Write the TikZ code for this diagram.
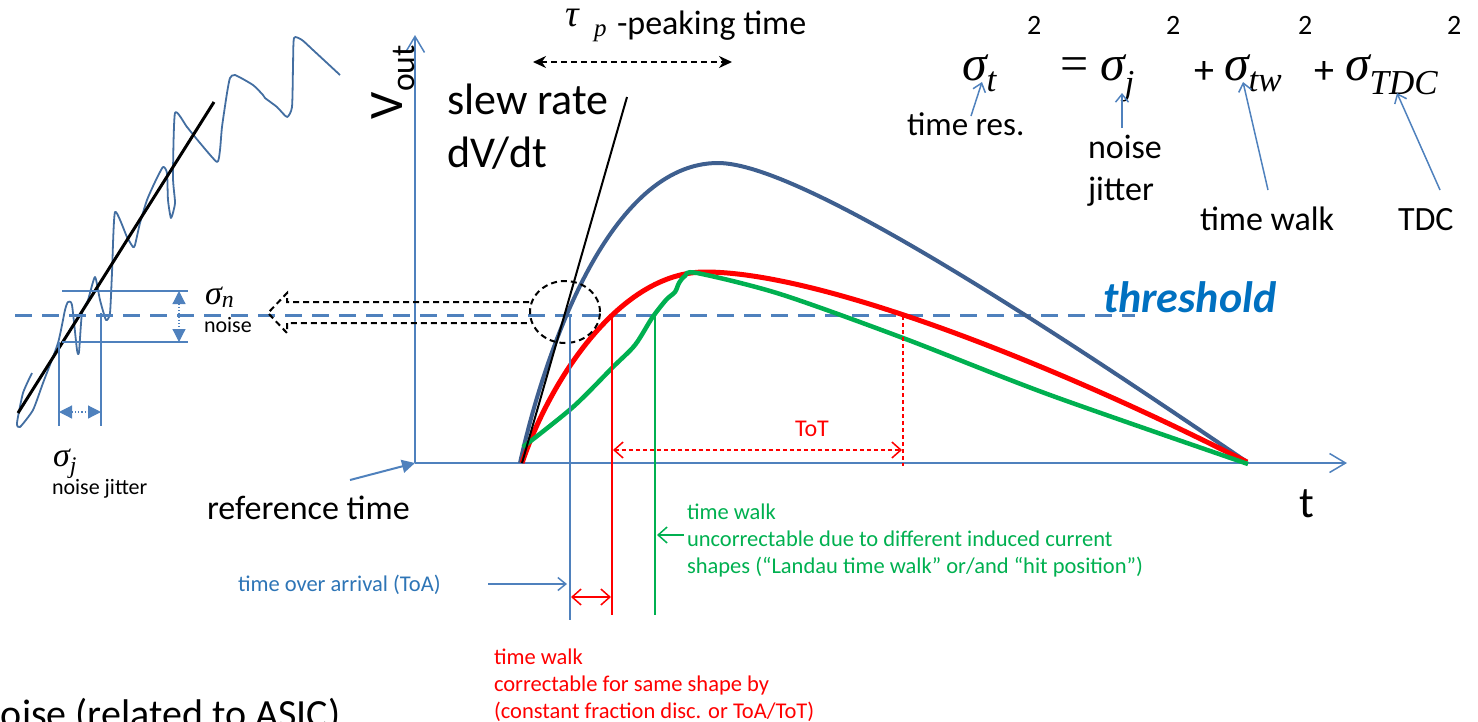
\documentclass[tikz,border=0pt]{standalone}
\usepackage{fontspec}
\setmainfont{Carlito}
\newfontfamily\eqf{Liberation Serif}
\usetikzlibrary{arrows.meta,shapes.geometric}
\definecolor{axisblue}{HTML}{4F81BD}
\definecolor{pulseblue}{HTML}{3E5F8F}
\definecolor{thrblue}{HTML}{0070C0}
\definecolor{toablue}{HTML}{2E75B6}
\definecolor{tgreen}{HTML}{00B050}
\definecolor{tred}{HTML}{FF0000}
\newcommand{\fsz}[1]{\fontsize{#1}{#1}\selectfont}
\tikzset{
  txt/.style={inner sep=0pt, outer sep=0pt, anchor=base west},
  axisline/.style={draw=axisblue, line width=1.5pt},
  thinarrow/.style={draw=axisblue, line width=1.5pt, -{Straight Barb[length=8pt,width=13pt,line width=1.5pt]}},
  thr/.style={draw=axisblue, line width=3pt, dash pattern=on 17pt off 10pt},
  blkdash/.style={draw=black, line width=2pt, dash pattern=on 6pt off 4pt},
  tri/.style={-{Triangle[length=13pt,width=13pt]}},
  tris/.style={{Triangle[length=13pt,width=13pt]}-{Triangle[length=13pt,width=13pt]}},
}
\begin{document}
\begin{tikzpicture}[x=1pt,y=-1pt]
\path[use as bounding box] (0,0) rectangle (1478,721);
\clip (0,0) rectangle (1478,721);

% ---------------- left noise sketch ----------------
\draw[axisblue!85!black, line width=1.8pt, line join=round] plot[smooth, tension=0.35] coordinates {
(32,373) (23,393) (17,423) (20,427) (33,410) (43,383) (58,343) (65,310) (68,302) (72,305)
(77,350) (79,352) (82,313) (88,300) (95,277) (100,300) (106,320) (110,313) (112,273) (115,212)
(127,237) (133,247) (135,245) (140,223) (147,200) (155,182) (163,167) (167,173) (168,200) (171,218)
(175,203) (173,177) (175,113) (187,127) (200,143) (217,162) (220,150) (222,127) (227,93) (230,78)
(235,75) (253,85) (263,95) (265,98) (277,107) (287,117) (292,107) (293,67) (294,38) (302,40)
(313,50) (340,75)};
\coordinate (nl1) at (18,413);
\coordinate (nl2) at (214,102);
\draw[black, line width=3pt] (nl1) -- (nl2);

% noise band
\coordinate (nbTL) at (62,291); \coordinate (nbTR) at (188,291);
\coordinate (nbBL) at (62,342); \coordinate (nbBR) at (188,342);
\draw[axisline] (nbTL) -- (nbTR);
\draw[axisline] (nbBL) -- (nbBR);
\coordinate (nA) at (179,291); \coordinate (nB) at (179,342);
\draw[axisblue, line width=1.2pt, dotted, tris] (nA) -- (nB);
% jitter
\coordinate (j1t) at (59,342); \coordinate (j1b) at (59,426);
\coordinate (j2t) at (101,313); \coordinate (j2b) at (101,426);
\draw[axisline] (j1t) -- (j1b);
\draw[axisline] (j2t) -- (j2b);
\coordinate (jA) at (59,412); \coordinate (jB) at (101,412);
\draw[axisblue, line width=1.2pt, dotted, tris] (jA) -- (jB);

\node[txt, font=\fsz{34}\eqf\itshape] (sign) at (205,304) {σ\textsubscript{n}};
\node[txt, font=\fsz{22}] (noiselbl) at (204,332) {noise};
\node[txt, font=\fsz{34}\eqf\itshape] (sigj) at (53,466) {σ\textsubscript{j}};
\node[txt, font=\fsz{22}] (jitlbl) at (52,494) {noise jitter};

% threshold
\coordinate (th1) at (15,315); \coordinate (th2) at (1135,315);
\draw[thr] (th1) -- (th2);
\node[txt, font=\fsz{44}\bfseries\itshape, text=thrblue] (thrlbl) at (1103,312) {threshold};

% ---------------- axes ----------------
\coordinate (O) at (415,463);
\coordinate (Ytop) at (415,35);
\coordinate (Xend) at (1347,463);
\draw[axisline, -{Straight Barb[length=16pt,width=19pt,line width=1.5pt]}] (O) -- (Ytop);
\draw[axisline, -{Straight Barb[length=16pt,width=19pt,line width=1.5pt]}] (O) -- (Xend);
\node[txt, rotate=90, font=\fsz{48}] (vout) at (402,119) {V\textsubscript{out}};
\node[txt, font=\fsz{44}] (tlbl) at (1299,517) {t};

% reference time
\node[txt, font=\fsz{34}] (reft) at (207,519) {reference time};
\coordinate (refA) at (350,480);
\draw[draw=axisblue, line width=2pt, tri, fill=axisblue] (refA) -- (O);

% peaking time
\node[txt, font=\fsz{38}\eqf\itshape, text height=16pt] (tau) at (565,26) {τ};
\node[txt, font=\fsz{25}\eqf\itshape] (taup) at (594,36) {p};
\node[txt, font=\fsz{34}] (peak) at (617,34) {-peaking time};
\coordinate (pk1) at (533,62); \coordinate (pk2) at (732,62);
\draw[blkdash, {Stealth[length=13pt,width=12pt]}-{Stealth[length=13pt,width=12pt]}] (pk1) -- (pk2);

% slew rate
\node[txt, font=\fsz{44}] (slew) at (447,114) {slew rate};
\node[txt, font=\fsz{44}] (dvdt) at (447,167) {dV/dt};

% ---------------- pulses ----------------
\coordinate (s0) at (520,463);
\coordinate (bpk) at (718,163);
\coordinate (pend) at (1247,462);
\draw[pulseblue, line width=4pt] (s0) .. controls (545,350) and (610,163) .. (bpk)
   .. controls (800,163) and (1047,326) .. (pend);
\coordinate (r0) at (522,463);
\coordinate (rpk) at (705,272);
\draw[tred, line width=5pt] (r0) .. controls (550,380) and (620,272) .. (rpk)
   .. controls (820,272) and (1050,362) .. (pend);
\draw[tgreen, line width=4.5pt, line join=round] plot[smooth, tension=0.5] coordinates {
(523,447) (573,407) (613,367) (635,345) (652,318) (666,300) (675,292) (679,283) (685,276) (697,273)
(780,294) (903,338) (1050,395) (1248,464)};

% slew-rate line
\coordinate (sl0) at (522,463);
\coordinate (sl1) at (627,97);
\draw[black, line width=2pt] (sl0) -- (sl1);

% dashed circle and hollow arrow
\node[draw=black, line width=2pt, dash pattern=on 6pt off 4pt, ellipse, minimum width=70pt, minimum height=62pt, inner sep=0pt] (circ) at (565,312) {};
\draw[blkdash, line join=miter] (circ.west |- 0,302) -- (287,302) -- (287,293) -- (268,313) -- (287,333) -- (287,323) -- (circ.west |- 0,323);

% ---------------- ToA / time walk / ToT ----------------
\coordinate (toaT) at (570,315); \coordinate (toaB) at (570,620);
\draw[axisline] (toaT) -- (toaB);
\node[txt, font=\fsz{22.5}, text=toablue] (toalbl) at (238,591) {time over arrival (ToA)};
\coordinate (toaA) at (488,584); \coordinate (toaTip) at (567,584);
\draw[thinarrow] (toaA) -- (toaTip);

\coordinate (redT) at (612,315); \coordinate (redB) at (612,615);
\draw[tred, line width=1.5pt] (redT) -- (redB);
\coordinate (rw1) at (571,597); \coordinate (rw2) at (611,597);
\draw[tred, line width=1.5pt, {Straight Barb[length=9pt,width=16pt,line width=1.5pt]}-{Straight Barb[length=9pt,width=16pt,line width=1.5pt]}] (rw1) -- (rw2);
\node[txt, font=\fsz{22.5}, text=tred] (red1) at (494,664) {time walk};
\node[txt, font=\fsz{22.5}, text=tred] (red2) at (494,691) {correctable for same shape by};
\node[txt, font=\fsz{22.5}, text=tred] (red3) at (494,718) {(constant fraction disc. or ToA/ToT)};

\coordinate (grT) at (655,315); \coordinate (grB) at (655,615);
\draw[tgreen, line width=1.5pt] (grT) -- (grB);
\coordinate (gA) at (684,535); \coordinate (gTip) at (657,535);
\draw[tgreen, line width=1.5pt, -{Straight Barb[length=9pt,width=16pt,line width=1.5pt]}] (gA) -- (gTip);
\node[txt, font=\fsz{22.5}, text=tgreen] (gr1) at (687,519) {time walk};
\node[txt, font=\fsz{22.5}, text=tgreen] (gr2) at (687,546) {uncorrectable due to different induced current};
\node[txt, font=\fsz{22.5}, text=tgreen] (gr3) at (687,573) {shapes (“Landau time walk” or/and “hit position”)};

\coordinate (totT) at (903,316); \coordinate (totB) at (903,466);
\draw[tred, line width=1.5pt, dash pattern=on 4pt off 3pt] (totT) -- (totB);
\coordinate (tot1) at (613,450); \coordinate (tot2) at (902,450);
\draw[tred, line width=1.5pt, dash pattern=on 4pt off 3pt, {Straight Barb[length=9pt,width=16pt,line width=1.5pt]}-{Straight Barb[length=9pt,width=16pt,line width=1.5pt]}] (tot1) -- (tot2);
\node[txt, font=\fsz{24}, text=tred] (totlbl) at (795,436) {ToT};

% ---------------- equation ----------------
\node[txt, font=\fsz{50}\eqf\itshape] (eqst) at (962,80) {σ\textsubscript{t}};
\node[txt, font=\fsz{28}] (sq1) at (1027,34) {2};
\node[txt, font=\fsz{50}\eqf] (eqeq) at (1060,80) {=};
\node[txt, font=\fsz{50}\eqf\itshape] (eqsj) at (1100,80) {σ\textsubscript{j}};
\node[txt, font=\fsz{28}] (sq2) at (1166,34) {2};
\node[txt, font=\fsz{40}] (pl1) at (1194,83) {+};
\node[txt, font=\fsz{50}\eqf\itshape] (eqtw) at (1224,80) {σ\textsubscript{tw}};
\node[txt, font=\fsz{28}] (sq3) at (1298,34) {2};
\node[txt, font=\fsz{40}] (pl2) at (1314,83) {+};
\node[txt, font=\fsz{50}\eqf\itshape] (eqtdc) at (1345,80) {σ\textsubscript{TDC}};
\node[txt, font=\fsz{28}] (sq4) at (1447,34) {2};

\node[txt, font=\fsz{33}] (tres) at (907,135) {time res.};
\node[txt, font=\fsz{34}] (nj1) at (1088,158) {noise};
\node[txt, font=\fsz{34}] (nj2) at (1088,200) {jitter};
\node[txt, font=\fsz{34}] (twlbl) at (1200,230) {time walk};
\node[txt, font=\fsz{34}] (tdclbl) at (1398,230) {TDC};

\coordinate (a1s) at (971,116); \coordinate (a1e) at (982,82);
\coordinate (a2s) at (1122,128); \coordinate (a2e) at (1122,93);
\coordinate (a3s) at (1268,190); \coordinate (a3e) at (1243,82);
\coordinate (a4s) at (1440,190); \coordinate (a4e) at (1397,93);
\draw[thinarrow] (a1s) -- (a1e);
\draw[thinarrow] (a2s) -- (a2e);
\draw[thinarrow] (a3s) -- (a3e);
\draw[thinarrow] (a4s) -- (a4e);

% bottom-left cut text
\node[txt, font=\fsz{40}] (asic) at (-20,727) {noise (related to ASIC)};
\end{tikzpicture}
\end{document}
